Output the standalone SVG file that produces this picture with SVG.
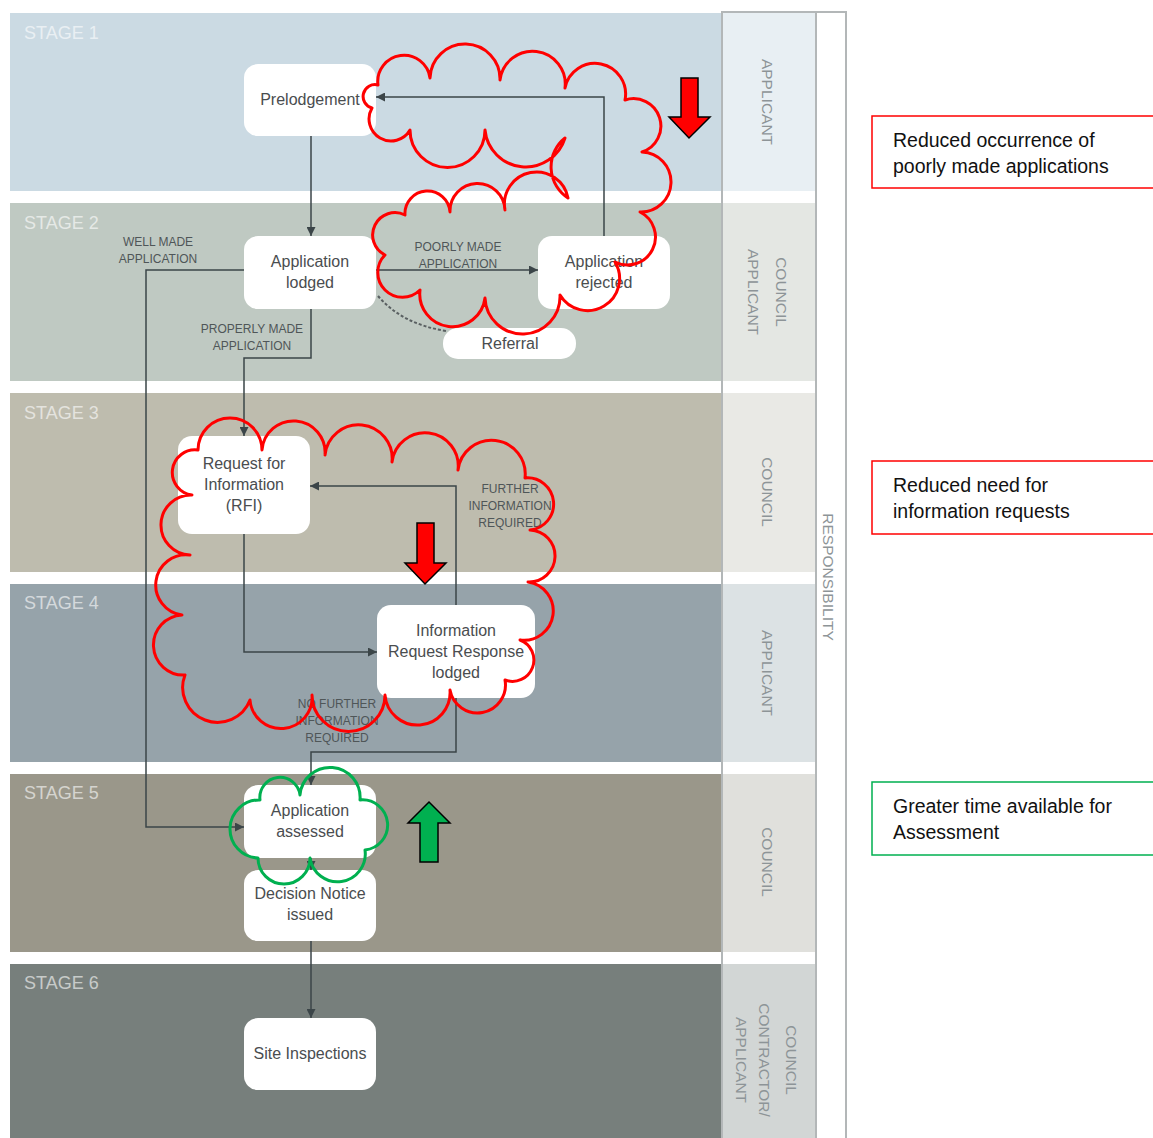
<svg xmlns="http://www.w3.org/2000/svg" width="1153" height="1138" viewBox="0 0 1153 1138">
<defs>
<marker id="ah" viewBox="0 0 10 10" refX="10" refY="5" markerWidth="9" markerHeight="9" markerUnits="userSpaceOnUse" orient="auto">
<path d="M0,0 L10,5 L0,10 z" fill="#3b4548"/>
</marker>
<style>
.stage{font-family:"Liberation Sans",Arial,sans-serif;font-size:18px;fill:#ffffff;fill-opacity:0.6}
.node rect{fill:#ffffff}
.nt{font-family:"Liberation Sans",Arial,sans-serif;font-size:16px;fill:#4a4d4f;text-anchor:middle}
.lbl{font-family:"Liberation Sans",Arial,sans-serif;font-size:12px;fill:#4f5658;text-anchor:middle}
.resp{font-family:"Liberation Sans",Arial,sans-serif;font-size:15.5px;fill:#8d9497;text-anchor:middle}
.conn{fill:none;stroke:#3b4548;stroke-width:1.5}
.cloud{fill:none;stroke-width:3;stroke-linejoin:round}
.note{font-family:"Liberation Sans",Arial,sans-serif;font-size:19.5px;fill:#111111}
</style>
</defs>
<rect width="1153" height="1138" fill="#ffffff"/>

<g id="bands">
<rect x="10" y="13" width="712" height="178" fill="#cbdae3"/>
<rect x="10" y="203" width="712" height="178" fill="#bfc9c2"/>
<rect x="10" y="393" width="712" height="179" fill="#bebcae"/>
<rect x="10" y="584" width="712" height="178" fill="#96a3aa"/>
<rect x="10" y="774" width="712" height="178" fill="#9a978a"/>
<rect x="10" y="964" width="712" height="174" fill="#777f7c"/>
<rect x="723" y="13" width="93" height="178" fill="#e8eff3"/>
<rect x="723" y="203" width="93" height="178" fill="#e4e7e3"/>
<rect x="723" y="393" width="93" height="179" fill="#e9e9e5"/>
<rect x="723" y="584" width="93" height="178" fill="#dce2e4"/>
<rect x="723" y="774" width="93" height="178" fill="#e0e0dc"/>
<rect x="723" y="964" width="93" height="174" fill="#d2d6d5"/>
<path d="M722,1138 V12 H846 V1138 M816,12 V1138" fill="none" stroke="#b3b7b8" stroke-width="2"/>
<text class="stage" x="24" y="39">STAGE 1</text>
<text class="stage" x="24" y="229">STAGE 2</text>
<text class="stage" x="24" y="419">STAGE 3</text>
<text class="stage" x="24" y="609">STAGE 4</text>
<text class="stage" x="24" y="799">STAGE 5</text>
<text class="stage" x="24" y="989">STAGE 6</text>
<text class="resp" transform="translate(762,102) rotate(90)">APPLICANT</text>
<text class="resp" transform="translate(776,292) rotate(90)">COUNCIL</text>
<text class="resp" transform="translate(748,292) rotate(90)">APPLICANT</text>
<text class="resp" transform="translate(762,492) rotate(90)">COUNCIL</text>
<text class="resp" transform="translate(762,673) rotate(90)">APPLICANT</text>
<text class="resp" transform="translate(762,862) rotate(90)">COUNCIL</text>
<text class="resp" transform="translate(786,1060) rotate(90)">COUNCIL</text>
<text class="resp" transform="translate(759,1060) rotate(90)">CONTRACTOR/</text>
<text class="resp" transform="translate(736,1060) rotate(90)">APPLICANT</text>
<text class="resp" transform="translate(823,577) rotate(90)">RESPONSIBILITY</text>
</g>

<g id="connectors">
<path class="conn" d="M311,136 V236" marker-end="url(#ah)"/>
<path class="conn" d="M604,236 V97 H376" marker-end="url(#ah)"/>
<path class="conn" d="M376,270 H538" marker-end="url(#ah)"/>
<path d="M378,296 Q402,324 446,331" fill="none" stroke="#5a6062" stroke-width="2" stroke-dasharray="3,2"/>
<path class="conn" d="M244,270 H146 V827 H244" marker-end="url(#ah)"/>
<path class="conn" d="M311,309 V358 H244 V436" marker-end="url(#ah)"/>
<path class="conn" d="M244,534 V652 H377" marker-end="url(#ah)"/>
<path class="conn" d="M456,605 V486 H310" marker-end="url(#ah)"/>
<path class="conn" d="M456,698 V752 H311 V785" marker-end="url(#ah)"/>
<path class="conn" d="M311,858 V870" marker-end="url(#ah)"/>
<path class="conn" d="M311,941 V1018" marker-end="url(#ah)"/>
<text class="lbl" x="458" y="251">POORLY MADE</text>
<text class="lbl" x="458" y="268">APPLICATION</text>
<text class="lbl" x="158" y="246">WELL MADE</text>
<text class="lbl" x="158" y="263">APPLICATION</text>
<text class="lbl" x="252" y="333">PROPERLY MADE</text>
<text class="lbl" x="252" y="350">APPLICATION</text>
<text class="lbl" x="510" y="493">FURTHER</text>
<text class="lbl" x="510" y="510">INFORMATION</text>
<text class="lbl" x="510" y="527">REQUIRED</text>
<text class="lbl" x="337" y="708">NO FURTHER</text>
<text class="lbl" x="337" y="725">INFORMATION</text>
<text class="lbl" x="337" y="742">REQUIRED</text>
</g>

<g id="prelodgement" class="node"><rect x="244" y="64" width="132" height="72" rx="14"/><text class="nt" x="310" y="105">Prelodgement</text></g>
<g id="application-lodged" class="node"><rect x="244" y="236" width="132" height="73" rx="14"/><text class="nt" x="310" y="267">Application</text><text class="nt" x="310" y="288">lodged</text></g>
<g id="application-rejected" class="node"><rect x="538" y="236" width="132" height="73" rx="14"/><text class="nt" x="604" y="267">Application</text><text class="nt" x="604" y="288">rejected</text></g>
<g id="referral" class="node"><rect x="443" y="328" width="133" height="31" rx="15"/><text class="nt" x="510" y="349">Referral</text></g>
<g id="rfi" class="node"><rect x="178" y="436" width="132" height="98" rx="14"/><text class="nt" x="244" y="469">Request for</text><text class="nt" x="244" y="490">Information</text><text class="nt" x="244" y="511">(RFI)</text></g>
<g id="info-response" class="node"><rect x="377" y="605" width="158" height="93" rx="14"/><text class="nt" x="456" y="636">Information</text><text class="nt" x="456" y="657">Request Response</text><text class="nt" x="456" y="678">lodged</text></g>
<g id="application-assessed" class="node"><rect x="244" y="785" width="132" height="73" rx="14"/><text class="nt" x="310" y="816">Application</text><text class="nt" x="310" y="837">assessed</text></g>
<g id="decision-notice" class="node"><rect x="244" y="870" width="132" height="71" rx="14"/><text class="nt" x="310" y="899">Decision Notice</text><text class="nt" x="310" y="920">issued</text></g>
<g id="site-inspections" class="node"><rect x="244" y="1018" width="132" height="72" rx="14"/><text class="nt" x="310" y="1059">Site Inspections</text></g>

<g id="highlights">
<path class="cloud" stroke="#ff0000" d="M372,108 A1,1 0 0 1 378,85 A1,1 0 0 1 430,78 A1,1 0 0 1 500,80 A1,1 0 0 1 565,88 A1,1 0 0 1 625,100 A1,1 0 0 1 642,152 A1,1 0 0 1 640,212 A1,1 0 0 1 615,262 A1,1 0 0 1 560,295 A1,1 0 0 1 485,298 A1,1 0 0 1 420,290 A1,1 0 0 1 385,255 A1,1 0 0 1 405,215 A1,1 0 0 1 450,212 A1,1 0 0 1 505,210 A1,1 0 0 1 568,198 A37,37 0 0 1 565,138 A41,41 0 0 1 485,130 A1,1 0 0 1 410,130 A1,1 0 0 1 372,108 Z"/>
<path class="cloud" stroke="#ff0000" d="M192,495 A1,1 0 0 1 198,450 A1,1 0 0 1 262,450 A1,1 0 0 1 325,455 A1,1 0 0 1 392,462 A1,1 0 0 1 458,470 A1,1 0 0 1 525,478 A1,1 0 0 1 530,530 A1,1 0 0 1 528,582 A1,1 0 0 1 520,640 A1,1 0 0 1 505,680 A1,1 0 0 1 450,690 A1,1 0 0 1 385,695 A1,1 0 0 1 312,695 A1,1 0 0 1 250,700 A1,1 0 0 1 185,675 A1,1 0 0 1 182,615 A1,1 0 0 1 190,555 A1,1 0 0 1 192,495 Z"/>
<path class="cloud" stroke="#00b050" d="M260,800 A1,1 0 0 1 300,795 A1,1 0 0 1 360,800 A1,1 0 0 1 365,850 A1,1 0 0 1 310,858 A1,1 0 0 1 258,858 A1,1 0 0 1 260,800 Z"/>
<path d="M681,78 H698 V117 H710 L689,138 L669,117 H681 Z" fill="#ff0000" stroke="#000000" stroke-width="1.5"/>
<path d="M417,523 H434 V563 H446 L425,584 L405,563 H417 Z" fill="#ff0000" stroke="#000000" stroke-width="1.5"/>
<path d="M420,862 H438 V823 H450 L429,802 L408,823 H420 Z" fill="#00b050" stroke="#000000" stroke-width="1.5"/>
</g>

<g id="note-1"><rect x="872" y="116" width="290" height="72" fill="#ffffff" stroke="#ff0000" stroke-width="1.5"/><text class="note" x="893" y="147">Reduced occurrence of</text><text class="note" x="893" y="173">poorly made applications</text></g>
<g id="note-2"><rect x="872" y="461" width="290" height="73" fill="#ffffff" stroke="#ff0000" stroke-width="1.5"/><text class="note" x="893" y="492">Reduced need for</text><text class="note" x="893" y="518">information requests</text></g>
<g id="note-3"><rect x="872" y="782" width="290" height="73" fill="#ffffff" stroke="#00b050" stroke-width="1.5"/><text class="note" x="893" y="813">Greater time available for</text><text class="note" x="893" y="839">Assessment</text></g>
</svg>
